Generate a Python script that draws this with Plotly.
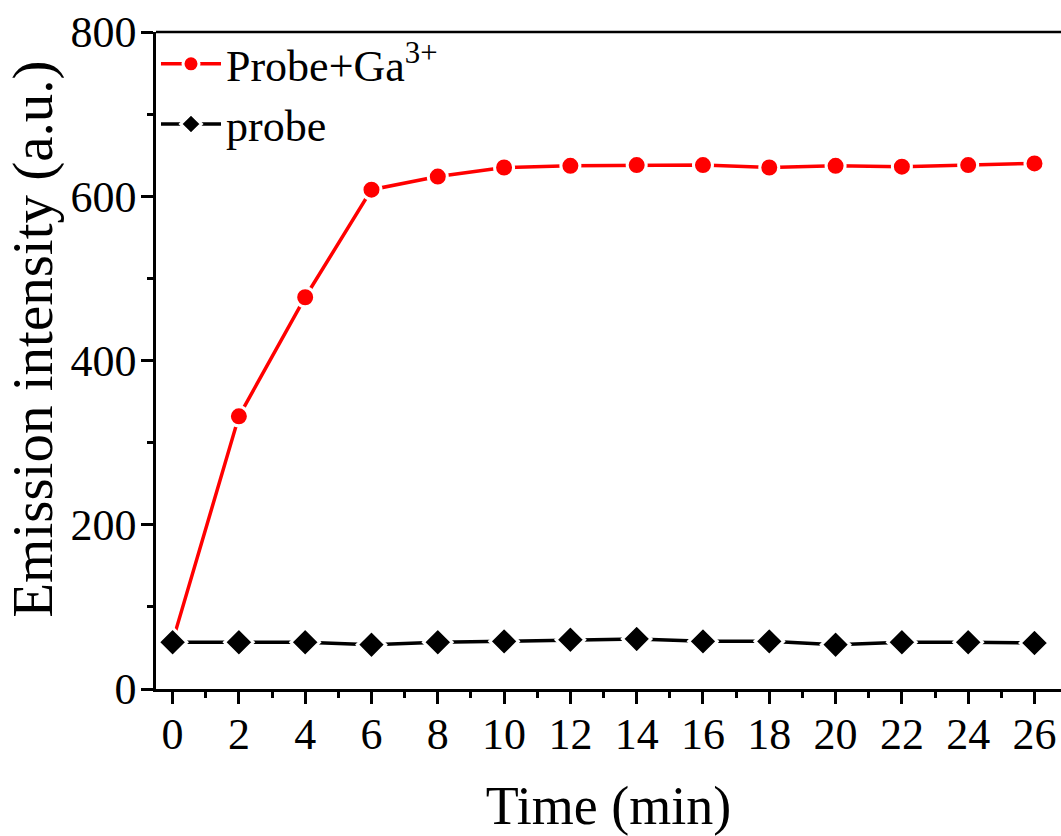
import plotly.graph_objects as go

time_min = [0, 2, 4, 6, 8, 10, 12, 14, 16, 18, 20, 22, 24, 26]
probe_ga = [58, 332, 477, 608, 624, 635, 637, 638, 638, 635, 637, 636, 638, 640]
probe = [57, 57, 57, 54, 57, 58, 60, 61, 58, 58, 54, 57, 57, 56]

x_ticks = list(range(0, 27, 2))
y_ticks = [0, 200, 400, 600, 800]

FONT = "Liberation Serif"

fig = go.Figure()
fig.add_trace(go.Scatter(
    x=time_min, y=probe_ga, mode="lines+markers",
    name="Probe+Ga<sup>3+</sup>",
    line=dict(color="#ff0000", width=3.5),
    marker=dict(symbol="circle", size=19, color="#ff0000",
                line=dict(color="white", width=3)),
))
fig.add_trace(go.Scatter(
    x=time_min, y=probe, mode="lines+markers",
    name="probe",
    line=dict(color="black", width=3.5),
    marker=dict(symbol="diamond", size=22, color="black",
                line=dict(color="white", width=3)),
))

fig.update_layout(
    width=1061, height=836,
    margin=dict(l=156, r=0, t=32, b=144),
    paper_bgcolor="white", plot_bgcolor="white",
    font=dict(family=FONT, color="black", size=44),
    showlegend=True,
    legend=dict(x=0.0, y=1.005, xanchor="left", yanchor="top",
                bgcolor="rgba(0,0,0,0)", font=dict(size=44, family=FONT),
                itemwidth=60, tracegroupgap=0),
    annotations=[dict(
        text="Emission intensity (a.u.)", textangle=-90,
        xref="paper", yref="paper", x=-0.136, y=0.533,
        xanchor="center", yanchor="middle", showarrow=False,
        font=dict(size=57, family=FONT, color="black"),
    )],
)
fig.update_xaxes(
    range=[-0.5, 26.8], tickvals=x_ticks, ticktext=[str(v) for v in x_ticks],
    showgrid=False, zeroline=False,
    showline=True, linecolor="black", linewidth=2.5,
    ticks="outside", ticklen=12, tickwidth=2.5, tickcolor="black",
    minor=dict(dtick=1, tick0=0, ticks="outside", ticklen=6, tickwidth=2.5, tickcolor="black", showgrid=False),
    tickfont=dict(size=44, family=FONT),
    ticklabelstandoff=-8,
    title=dict(text="Time (min)", font=dict(size=54, family=FONT), standoff=40),
)
fig.update_yaxes(
    range=[0, 800], tickvals=y_ticks, ticktext=[str(v) for v in y_ticks],
    showgrid=False, zeroline=False,
    showline=True, linecolor="black", linewidth=2.5,
    ticks="outside", ticklen=12, tickwidth=2.5, tickcolor="black",
    minor=dict(dtick=100, tick0=0, ticks="outside", ticklen=6, tickwidth=2.5, tickcolor="black", showgrid=False),
    tickfont=dict(size=44, family=FONT),
    ticklabelstandoff=-4,
)
fig.add_shape(type="line", xref="paper", yref="paper", x0=0, x1=1, y0=1, y1=1,
              line=dict(color="black", width=2.5))

fig.write_html("out.html")
